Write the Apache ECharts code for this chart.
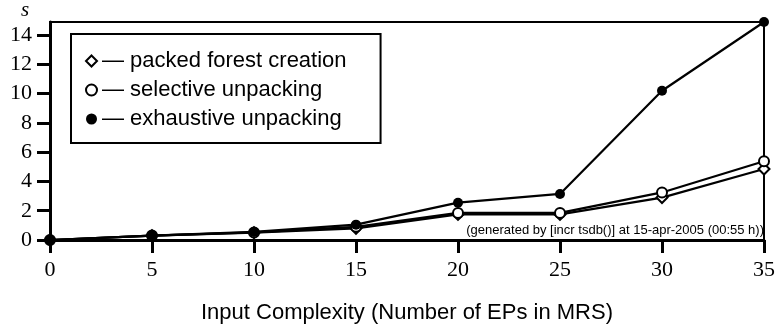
<!DOCTYPE html>
<html>
<head>
<meta charset="utf-8">
<script src="https://cdn.jsdelivr.net/npm/echarts@6/dist/echarts.min.js"></script>
<style>html,body{margin:0;padding:0;background:#fff;}#c{width:778px;height:329px;}</style>
</head>
<body>
<div id="c"></div>
<script>
const xValues = [0, 5, 10, 15, 20, 25, 30, 35];
const packedForest = [0, 0.3, 0.5, 0.8, 1.75, 1.75, 2.9, 4.85];
const selectiveUnpacking = [0, 0.3, 0.52, 0.9, 1.85, 1.85, 3.25, 5.38];
const exhaustiveUnpacking = [0, 0.3, 0.55, 1.05, 2.55, 3.15, 10.2, 14.9];
const yTicks = [0, 2, 4, 6, 8, 10, 12, 14];
const seriesNames = ['packed forest creation', 'selective unpacking', 'exhaustive unpacking'];
const xAxisTitle = 'Input Complexity (Number of EPs in MRS)';
const yUnit = 's';
const footnote = '(generated by [incr tsdb()] at 15-apr-2005 (00:55 h))';
const yMax = 14.9;

const pairs = arr => xValues.map((x, i) => [x, arr[i]]);
const chart = echarts.init(document.getElementById('c'), null, {renderer: 'canvas'});
const serif = '"Liberation Serif", "Times New Roman", serif';
const sans = '"Liberation Sans", Arial, sans-serif';
const lineStyle = {color: '#000', width: 2.2};
chart.setOption({
  animation: false,
  backgroundColor: '#fff',
  grid: {left: 50, right: 13, top: 22, bottom: 89, show: true, borderColor: '#000', borderWidth: 2},
  legend: {
    left: 71, top: 34, orient: 'vertical',
    backgroundColor: '#fff',
    borderColor: '#000', borderWidth: 2,
    padding: [16, 34, 13, 14],
    itemWidth: 11, itemHeight: 11, itemGap: 7,
    textStyle: {fontFamily: sans, fontSize: 22, color: '#000'},
    formatter: n => '\u2014 ' + n,
    data: [
      {name: seriesNames[0], icon: 'emptyDiamond', itemStyle: {color: '#000', borderColor: '#000', borderWidth: 1.5}},
      {name: seriesNames[1], icon: 'emptyCircle', itemStyle: {color: '#000', borderColor: '#000', borderWidth: 1.5}},
      {name: seriesNames[2], icon: 'circle', itemStyle: {color: '#000'}}
    ]
  },
  xAxis: {
    type: 'value', min: 0, max: 35, interval: 5,
    name: xAxisTitle, nameLocation: 'middle', nameGap: 62,
    nameTextStyle: {fontFamily: sans, fontSize: 22, color: '#000'},
    axisLine: {lineStyle: {color: '#000', width: 3}},
    axisTick: {length: 13, lineStyle: {color: '#000', width: 3}},
    axisLabel: {fontFamily: serif, fontSize: 22, color: '#000', margin: 19},
    splitLine: {show: false}
  },
  yAxis: {
    type: 'value', min: 0, max: yMax, interval: 2,
    axisLine: {show: true, lineStyle: {color: '#000', width: 3}},
    axisTick: {show: true, length: 13, lineStyle: {color: '#000', width: 3}, customValues: yTicks},
    axisLabel: {fontFamily: serif, fontSize: 22, color: '#000', margin: 18, customValues: yTicks},
    splitLine: {show: false}
  },
  graphic: [
    {type: 'text', left: 21, top: 0, style: {text: yUnit, font: 'italic 21px ' + serif, fill: '#000'}},
    {type: 'text', right: 14, top: 224, style: {text: footnote, font: '13px ' + sans, fill: '#000'}}
  ],
  series: [
    {name: seriesNames[0], type: 'line', data: pairs(packedForest), symbol: 'emptyDiamond', symbolSize: 11,
     lineStyle: lineStyle, itemStyle: {color: '#000', borderWidth: 1.5}, z: 3},
    {name: seriesNames[1], type: 'line', data: pairs(selectiveUnpacking), symbol: 'emptyCircle', symbolSize: 10,
     lineStyle: lineStyle, itemStyle: {color: '#000', borderWidth: 1.5}, z: 4},
    {name: seriesNames[2], type: 'line', data: pairs(exhaustiveUnpacking), symbol: 'circle', symbolSize: 10,
     lineStyle: lineStyle, itemStyle: {color: '#000'}, z: 5}
  ]
});
</script>
</body>
</html>
